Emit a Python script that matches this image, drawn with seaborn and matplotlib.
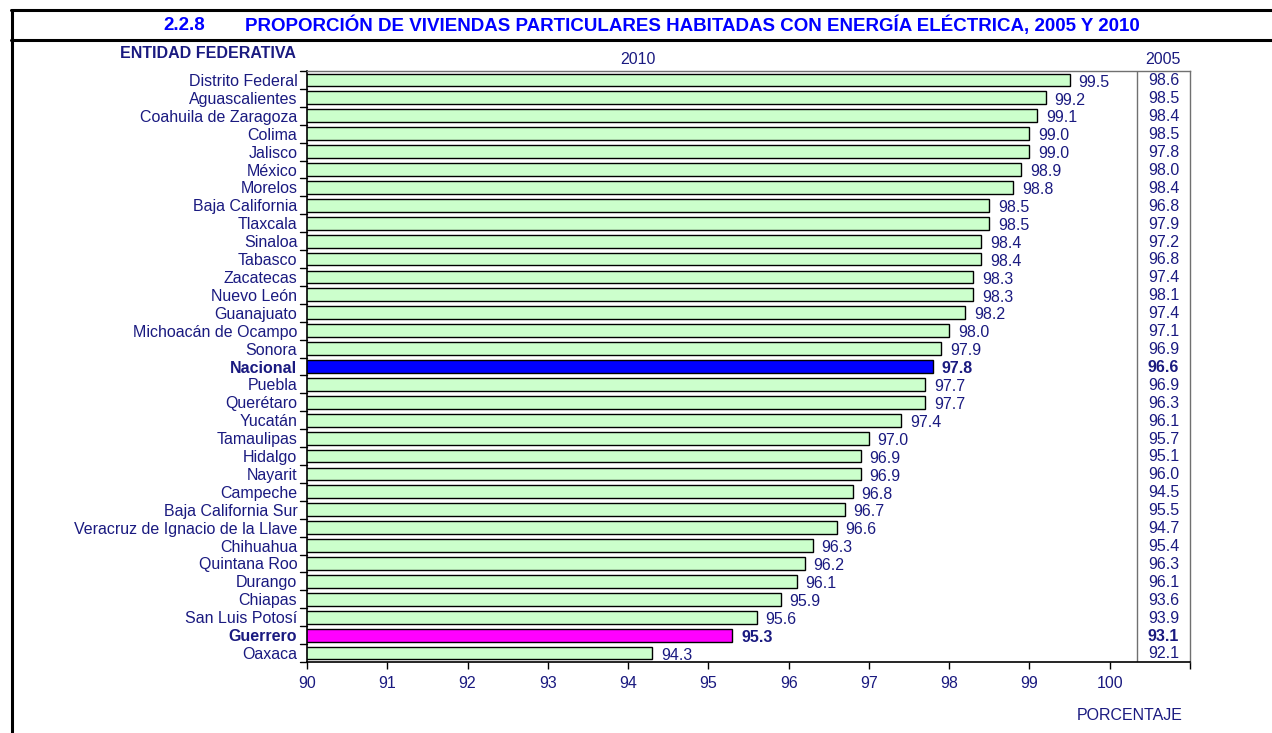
import matplotlib
matplotlib.use("Agg")
import matplotlib.pyplot as plt
import seaborn as sns
import pandas as pd
from matplotlib.lines import Line2D

entidades = ["Distrito Federal", "Aguascalientes", "Coahuila de Zaragoza", "Colima", "Jalisco",
             "México", "Morelos", "Baja California", "Tlaxcala", "Sinaloa", "Tabasco",
             "Zacatecas", "Nuevo León", "Guanajuato", "Michoacán de Ocampo", "Sonora",
             "Nacional", "Puebla", "Querétaro", "Yucatán", "Tamaulipas", "Hidalgo", "Nayarit",
             "Campeche", "Baja California Sur", "Veracruz de Ignacio de la Llave", "Chihuahua",
             "Quintana Roo", "Durango", "Chiapas", "San Luis Potosí", "Guerrero", "Oaxaca"]
v2010 = [99.5, 99.2, 99.1, 99.0, 99.0, 98.9, 98.8, 98.5, 98.5, 98.4, 98.4, 98.3, 98.3, 98.2,
         98.0, 97.9, 97.8, 97.7, 97.7, 97.4, 97.0, 96.9, 96.9, 96.8, 96.7, 96.6, 96.3, 96.2,
         96.1, 95.9, 95.6, 95.3, 94.3]
v2005 = [98.6, 98.5, 98.4, 98.5, 97.8, 98.0, 98.4, 96.8, 97.9, 97.2, 96.8, 97.4, 98.1, 97.4,
         97.1, 96.9, 96.6, 96.9, 96.3, 96.1, 95.7, 95.1, 96.0, 94.5, 95.5, 94.7, 95.4, 96.3,
         96.1, 93.6, 93.9, 93.1, 92.1]
xticks = [90, 91, 92, 93, 94, 95, 96, 97, 98, 99, 100]
highlight = {"Nacional": "#0000FF", "Guerrero": "#FF00FF"}
base_color = "#CCFFCC"
txt = "#1A1A80"
fs = 11.5

sns.set_theme(style="white")
plt.rcParams['font.family'] = ['Liberation Sans', 'DejaVu Sans']

df = pd.DataFrame({"entidad": entidades, "v2010": v2010, "v2005": v2005})
palette = {e: highlight.get(e, base_color) for e in entidades}

fig = plt.figure(figsize=(12.72, 7.33), dpi=100)
ax = fig.add_axes([307/1272, 1-662/733, (1190-307)/1272, (662-71)/733])

sns.barplot(data=df, x="v2010", y="entidad", hue="entidad", palette=palette, legend=False,
            orient="h", width=0.72, edgecolor="black", linewidth=1.0, ax=ax, saturation=1)

ax.set_xlim(90, 101)
ax.set_ylim(len(entidades) - 0.5, -0.5)
ax.set_xticks(xticks + [101])
ax.set_xticklabels([str(t) for t in xticks] + [""])
ax.set_xlabel("")
ax.set_ylabel("")
ax.set_yticks(range(len(entidades)))
ax.set_yticklabels(entidades)
for lab in ax.get_yticklabels():
    lab.set_color(txt)
    lab.set_fontsize(fs)
    if lab.get_text() in highlight:
        lab.set_fontweight("bold")
for lab in ax.get_xticklabels():
    lab.set_color(txt)
    lab.set_fontsize(fs)
ax.tick_params(axis="y", length=0, pad=7)
ax.tick_params(axis="x", length=5, width=1, color="black", direction="out", pad=5, bottom=True)

# y boundary ticks on the left
for b in [i - 0.5 for i in range(len(entidades) + 1)]:
    ax.plot([-0.008, 0], [b, b], transform=ax.get_yaxis_transform(), color="black",
            lw=1, clip_on=False)

for s in ["left", "bottom"]:
    ax.spines[s].set_color("black")
    ax.spines[s].set_linewidth(1.2)
for s in ["top", "right"]:
    ax.spines[s].set_color("#707070")
    ax.spines[s].set_linewidth(1.0)

sep = 100.34
ax.axvline(sep, color="#707070", lw=1.0)

for i, (e, a, b) in enumerate(zip(entidades, v2010, v2005)):
    bold = "bold" if e in highlight else "normal"
    ax.text(a + 0.11, i + 0.12, f"{a:.1f}", color=txt, fontsize=fs, fontweight=bold,
            va="center", ha="left")
    ax.text(100.67, i + 0.05, f"{b:.1f}", color=txt, fontsize=fs, fontweight=bold,
            va="center", ha="center")

# header texts
fig.text(163/1272, 1-25/733, "2.2.8", color="#0000FF", fontsize=13.5, fontweight="bold",
         va="center", ha="left")
fig.text(245/1272, 1-25/733, "PROPORCIÓN DE VIVIENDAS PARTICULARES HABITADAS CON ENERGÍA ELÉCTRICA, 2005 Y 2010",
         color="#0000FF", fontsize=13.5, fontweight="bold", va="center", ha="left")
fig.text(120/1272, 1-53/733, "ENTIDAD FEDERATIVA", color=txt, fontsize=fs,
         fontweight="bold", va="center", ha="left")
fig.text(638/1272, 1-60/733, "2010", color=txt, fontsize=fs, va="center", ha="center")
fig.text(1163/1272, 1-60/733, "2005", color=txt, fontsize=fs, va="center", ha="center")
fig.text(1130/1272, 1-716/733, "PORCENTAJE", color=txt, fontsize=fs, va="center", ha="center")

# frame lines
fig.add_artist(Line2D([11/1272, 1], [1-10/733, 1-10/733], color="black", lw=2.2))
fig.add_artist(Line2D([11/1272, 1], [1-40/733, 1-40/733], color="black", lw=2.2))
fig.add_artist(Line2D([12/1272, 12/1272], [1-10/733, 0], color="black", lw=2.2))

fig.savefig("out.png", dpi=100)
